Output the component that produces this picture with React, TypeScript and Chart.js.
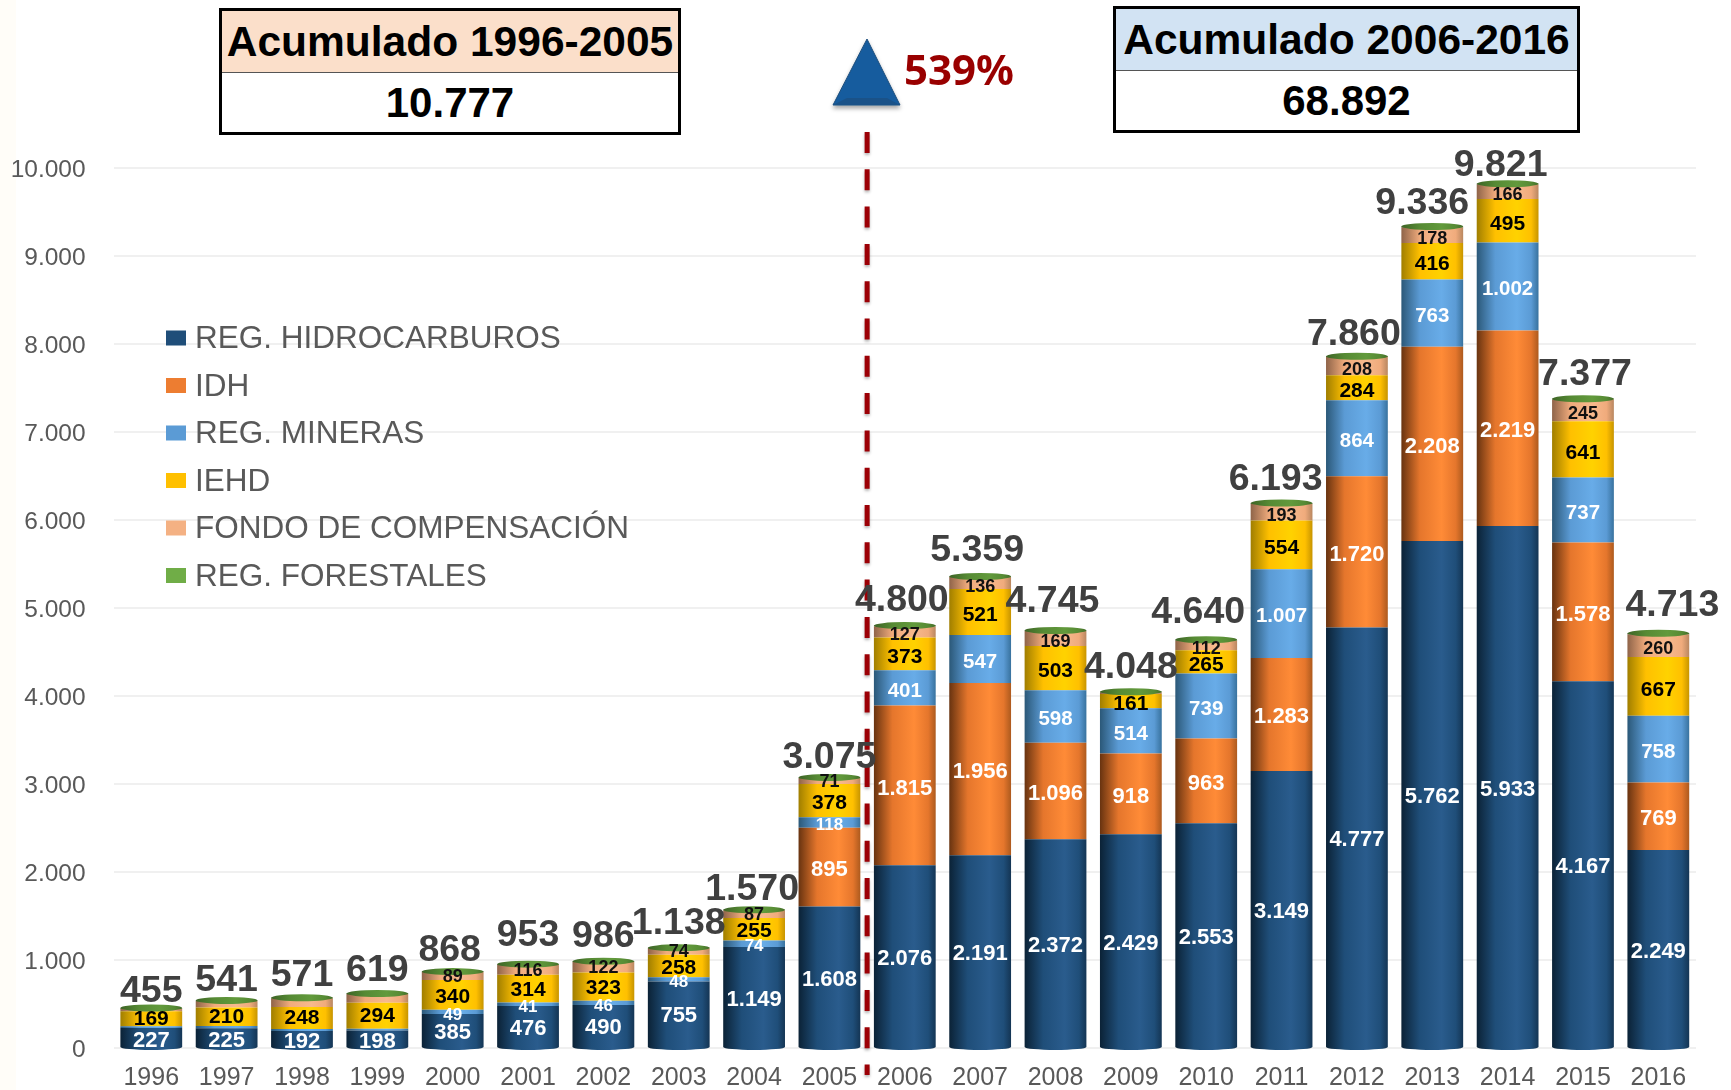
import React, { useEffect, useRef } from "react";
import { Chart, registerables } from "chart.js";

Chart.register(...registerables);

const years = ["1996","1997","1998","1999","2000","2001","2002","2003","2004","2005","2006","2007","2008","2009","2010","2011","2012","2013","2014","2015","2016"];
const hidrocarburos = [227,225,192,198,385,476,490,755,1149,1608,2076,2191,2372,2429,2553,3149,4777,5762,5933,4167,2249];
const idh = [0,0,0,0,0,0,0,0,0,895,1815,1956,1096,918,963,1283,1720,2208,2219,1578,769];
const mineras = [21,25,25,22,49,41,46,48,74,118,401,547,598,514,739,1007,864,763,1002,737,758];
const iehd = [169,210,248,294,340,314,323,258,255,378,373,521,503,161,265,554,284,416,495,641,667];
const fondo = [33,76,101,100,89,116,122,74,87,71,127,136,169,20,112,193,208,178,166,245,260];
const forestales = [5,5,5,5,5,6,5,3,5,5,8,8,7,6,8,7,7,9,6,9,10];
const totals = [455,541,571,619,868,953,986,1138,1570,3075,4800,5359,4745,4048,4640,6193,7860,9336,9821,7377,4713];
const totalNudgesX = [0,0,0,0,-3,0,0,0,-2,0,-3,-3,-3,0,-8,-6,-3,-10,-7,2,14];
const totalNudgesY = [5.5,2,0,-1,1,-6.5,-3,-2,2,2,-3,-4,-6.5,-2,-5.5,-1,0,-1,4,-2,-5.5];

const fmt = (v: number) => String(v).replace(/\B(?=(\d{3})+(?!\d))/g, ".");

const FONT = '"Liberation Sans", Arial, sans-serif';

type Ramp = [string, string, string, string];
const ramps: Record<string, Ramp> = {
  hidro: ["#0b2236", "#1f4e79", "#2a5c8d", "#143554"],
  idh: ["#683310", "#e5762c", "#ff8b37", "#ad5a1e"],
  mineras: ["#2b5878", "#5b9bd5", "#68ace8", "#38729e"],
  iehd: ["#a07e00", "#ffc000", "#ffd200", "#c79400"],
  fondo: ["#8f6449", "#f0ab7c", "#f7b98d", "#b98760"],
  forest: ["#3d6426", "#568a34", "#629a3c", "#446d29"],
};

const barGradient = (chart: any, index: number, ramp: Ramp) => {
  const sx = chart.scales && chart.scales.x;
  if (!sx || !chart.ctx) return ramp[1];
  const c = sx.getPixelForValue(index);
  const half = (sx.width / years.length) * 0.41;
  if (!Number.isFinite(c) || !Number.isFinite(half) || half <= 0) return ramp[1];
  const g = chart.ctx.createLinearGradient(c - half, 0, c + half, 0);
  g.addColorStop(0, ramp[0]);
  g.addColorStop(0.3, ramp[1]);
  g.addColorStop(0.65, ramp[2]);
  g.addColorStop(0.88, ramp[1]);
  g.addColorStop(1, ramp[3]);
  return g;
};

const seriesDefs = [
  { label: "REG. HIDROCARBUROS", data: hidrocarburos, ramp: "hidro", swatch: "#1f4e79" },
  { label: "IDH", data: idh, ramp: "idh", swatch: "#ed7d31" },
  { label: "REG. MINERAS", data: mineras, ramp: "mineras", swatch: "#5b9bd5" },
  { label: "IEHD", data: iehd, ramp: "iehd", swatch: "#ffc000" },
  { label: "FONDO DE COMPENSACIÓN", data: fondo, ramp: "fondo", swatch: "#f4b183" },
  { label: "REG. FORESTALES", data: forestales, ramp: "forest", swatch: "#70ad47" },
];

const labelStyle = (ds: number, idx: number, value: number) => {
  if (value <= 0) return null;
  if (ds === 5) return null;
  if (ds === 2 && idx < 4) return null;
  if (ds === 4 && (idx < 4 || idx === 13)) return null;
  if (ds === 0) return { size: 22, color: "#ffffff", dy: idx >= 4 && idx < 8 ? 2 : 3 };
  if (ds === 1) return { size: 22, color: "#ffffff", dy: 3 };
  if (ds === 2) return { size: value < 130 ? 17 : 20.5, color: "#ffffff", dy: 3 };
  if (ds === 3) return { size: 21, color: "#000000", dy: idx < 4 ? 0 : idx < 10 ? 2 : 3.5 };
  return { size: 18, color: "#111111", dy: idx >= 10 ? 3.5 : 1 };
};

const decor = {
  id: "decor",
  afterDatasetsDraw(chart: any) {
    const { ctx, scales } = chart;
    ctx.save();

    // cylinder caps
    const bottomMeta = chart.getDatasetMeta(0);
    const topMeta = chart.getDatasetMeta(5);
    years.forEach((_, i) => {
      const b = bottomMeta.data[i];
      const half = b.width / 2;
      ctx.fillStyle = barGradient(chart, i, ramps.hidro);
      ctx.beginPath();
      ctx.ellipse(b.x, b.base, half, 3, 0, 0, Math.PI);
      ctx.fill();
      const t = topMeta.data[i];
      ctx.fillStyle = barGradient(chart, i, ramps.forest);
      ctx.beginPath();
      ctx.ellipse(t.x, t.y, half, 3.5, 0, 0, Math.PI * 2);
      ctx.fill();
    });

    // divider between the two periods
    const dx = scales.x.getPixelForValue(9.5);
    ctx.save();
    ctx.strokeStyle = "#9c0006";
    ctx.lineWidth = 5;
    ctx.setLineDash([21, 16.3]);
    ctx.shadowColor = "rgba(0,0,0,0.3)";
    ctx.shadowBlur = 3;
    ctx.shadowOffsetY = 2;
    ctx.beginPath();
    ctx.moveTo(dx, 132);
    ctx.lineTo(dx, 1075);
    ctx.stroke();
    ctx.restore();

    // segment values
    ctx.textAlign = "center";
    ctx.textBaseline = "middle";
    chart.data.datasets.forEach((ds: any, d: number) => {
      const meta = chart.getDatasetMeta(d);
      ds.data.forEach((v: number, i: number) => {
        const st = labelStyle(d, i, v);
        if (!st) return;
        const el = meta.data[i];
        ctx.font = `bold ${st.size}px ${FONT}`;
        ctx.fillStyle = st.color;
        ctx.fillText(fmt(v), el.x, (el.y + el.base) / 2 + st.dy);
      });
    });

    // totals
    ctx.font = `bold 37.5px ${FONT}`;
    ctx.fillStyle = "#404040";
    totals.forEach((v, i) => {
      const t = topMeta.data[i];
      ctx.fillText(fmt(v), t.x + totalNudgesX[i], t.y - 22 + totalNudgesY[i]);
    });

    // legend
    ctx.textAlign = "left";
    ctx.font = `31.5px ${FONT}`;
    seriesDefs.forEach((s, i) => {
      const y = 338 + i * 47.5;
      ctx.fillStyle = s.swatch;
      ctx.fillRect(166, y - 7.5, 20, 15);
      ctx.fillStyle = "#595959";
      ctx.fillText(s.label, 195, y + 1.5);
    });
    ctx.restore();
  },
};

const boxStyle = (left: number, top: number, width: number, height: number): React.CSSProperties => ({
  position: "absolute", left, top, width, height, boxSizing: "border-box", border: "3px solid #000",
  background: "#fff", fontFamily: FONT, fontWeight: "bold", color: "#000", textAlign: "center", fontSize: 42.5,
});

function Box({ left, top, width, height, head, color, title, value }: any) {
  return (
    <div style={boxStyle(left, top, width, height)}>
      <div style={{ height: head, lineHeight: `${head}px`, background: color, borderBottom: "1px solid #555", whiteSpace: "nowrap" }}>{title}</div>
      <div style={{ height: height - head - 7, lineHeight: `${height - head - 7}px`, fontSize: 42 }}>{value}</div>
    </div>
  );
}

export default function App() {
  const ref = useRef<HTMLCanvasElement>(null);
  useEffect(() => {
    const chart = new Chart(ref.current as HTMLCanvasElement, {
      type: "bar",
      data: {
        labels: years,
        datasets: seriesDefs.map((s) => ({
          label: s.label,
          data: s.data,
          backgroundColor: (c: any) => barGradient(c.chart, c.dataIndex, ramps[s.ramp]),
          borderWidth: 0,
          barPercentage: 0.82,
          categoryPercentage: 1,
        })),
      },
      options: {
        responsive: false,
        animation: false,
        layout: { padding: { top: 168, right: 35, left: 0, bottom: 0 } },
        plugins: { legend: { display: false }, tooltip: { enabled: false } },
        scales: {
          x: {
            stacked: true,
            grid: { display: false },
            border: { display: false },
            ticks: { color: "#595959", font: { family: FONT, size: 25 }, padding: 7, maxRotation: 0, autoSkip: false },
            afterFit: (s: any) => { s.height = 42; },
          },
          y: {
            stacked: true,
            min: 0,
            max: 10000,
            grid: { color: "#f0f0f0", lineWidth: 2, drawTicks: false },
            border: { display: false },
            ticks: {
              stepSize: 1000,
              color: "#595959",
              padding: 28,
              font: { family: FONT, size: 24.5, lineHeight: 0.22 },
              callback: (v: any) => ["", fmt(Number(v))],
            },
            afterFit: (s: any) => { s.width = 113.6; },
          },
        },
      },
      plugins: [decor],
    } as any);
    return () => chart.destroy();
  }, []);

  return (
    <div style={{ position: "relative", width: 1731, height: 1090, overflow: "hidden", background: "#fff" }}>
      <style>{"html,body{margin:0;padding:0;background:#fff}"}</style>
      <div style={{ position: "absolute", left: 0, top: 0, width: 16, height: 1090, background: "#fffdf8" }} />
      <canvas ref={ref} width={1731} height={1090} style={{ position: "absolute", left: 0, top: 0, display: "block" }} />
      <Box left={219} top={8} width={462} height={127} head={61} color="#fbdfca" title="Acumulado 1996-2005" value="10.777" />
      <Box left={1113} top={6} width={467} height={127} head={61} color="#d2e3f3" title="Acumulado 2006-2016" value="68.892" />
      <svg width={90} height={90} style={{ position: "absolute", left: 822, top: 30 }}>
        <defs>
          <filter id="sh" x="-30%" y="-30%" width="160%" height="160%">
            <feDropShadow dx="0" dy="3" stdDeviation="2" floodColor="#000" floodOpacity="0.35" />
          </filter>
        </defs>
        <polygon points="45,9 78,75 11,75" fill="#175c9e" stroke="#1d4e7c" strokeWidth="1" filter="url(#sh)" />
        <polygon points="11,75 78,75 65,68 25,68" fill="#1a5288" />
      </svg>
      <div style={{ position: "absolute", left: 904, top: 39, fontFamily: '"Noto Sans", sans-serif', fontWeight: "bold", fontSize: 42, lineHeight: "60px", color: "#990000" }}>539%</div>
    </div>
  );
}
